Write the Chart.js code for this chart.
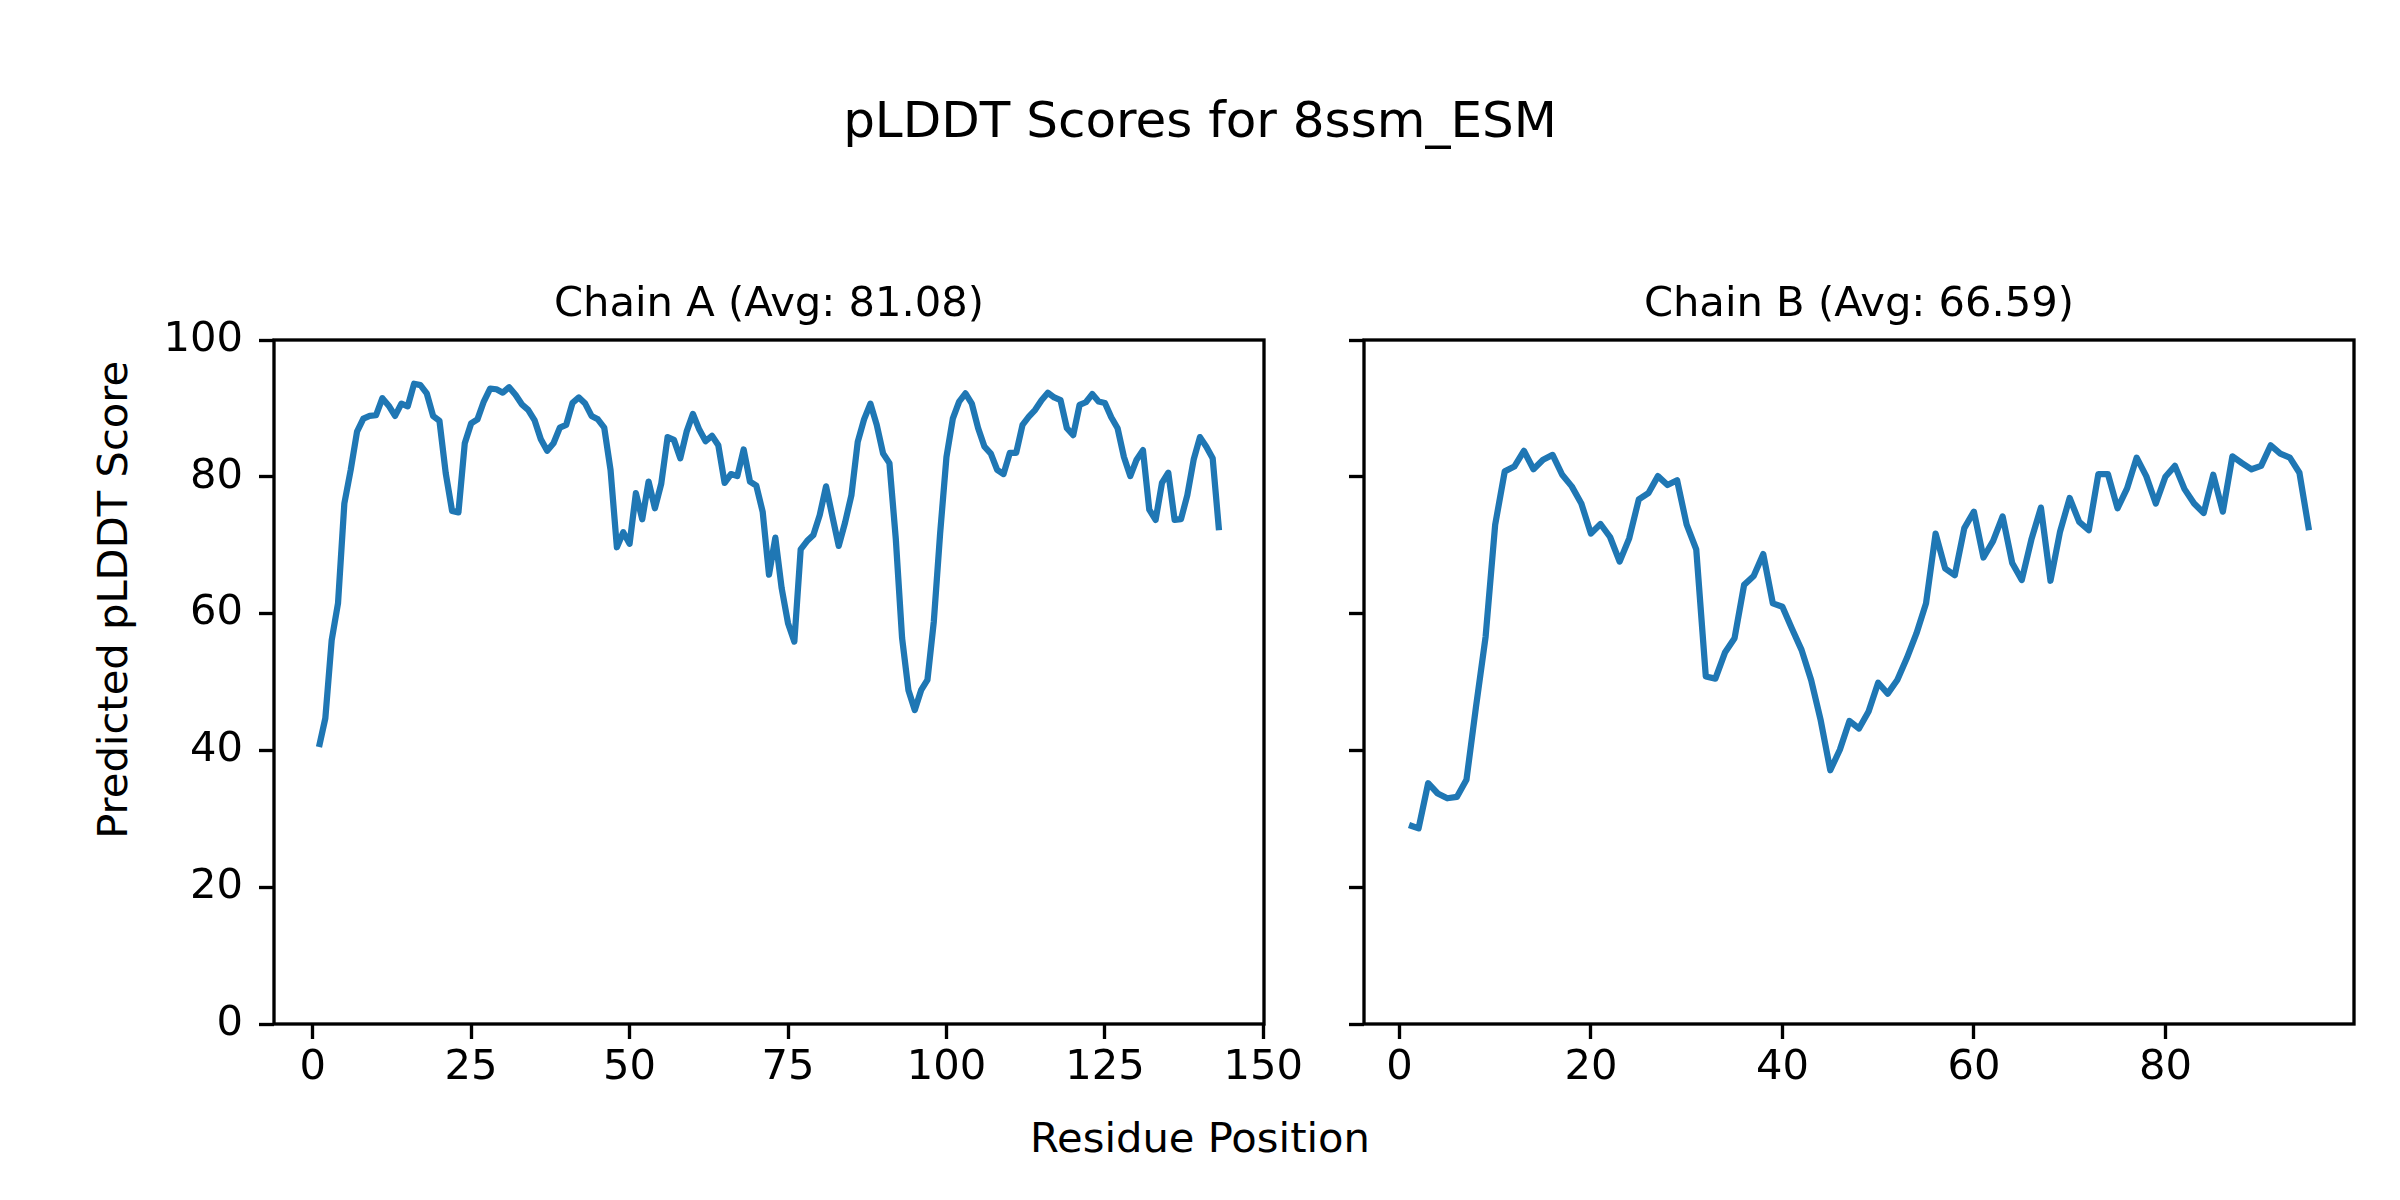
<!DOCTYPE html>
<html>
<head>
<meta charset="utf-8">
<script src="https://cdn.jsdelivr.net/npm/chart.js"></script>
<style>
  body { margin: 0; background: #fff; width: 2400px; height: 1200px; position: relative; overflow: hidden; font-family: 'DejaVu Sans', sans-serif; color: #000; }
  canvas { position: absolute; top: 0; }
  .lbl { position: absolute; white-space: nowrap; text-align: center; }
</style>
</head>
<body>
<div class="lbl" id="suptitle" style="left:0; width:2400px; top:95px; font-size:50px; line-height:50px;">pLDDT Scores for 8ssm_ESM</div>
<div class="lbl" id="xlabel" style="left:800px; width:800px; top:1117px; font-size:41.67px; line-height:41.67px;">Residue Position</div>
<div class="lbl" id="ylabel" style="left:-287px; width:800px; top:579px; font-size:41.67px; line-height:41.67px; transform:rotate(-90deg);">Predicted pLDDT Score</div>
<canvas id="chartA" width="1314" height="1200" style="left:0"></canvas>
<canvas id="chartB" width="1086" height="1200" style="left:1314px"></canvas>
<script>
// pLDDT per residue
const chainA = [
  40.5, 44.7, 56.1, 61.5, 76.1, 81.0, 86.6, 88.5, 88.9, 89.0,
  91.5, 90.4, 88.9, 90.7, 90.3, 93.6, 93.4, 92.2, 88.9, 88.2,
  80.5, 75.0, 74.8, 84.9, 87.8, 88.4, 91.0, 92.9, 92.8, 92.3,
  93.1, 92.0, 90.6, 89.8, 88.3, 85.5, 83.8, 84.9, 87.2, 87.6,
  90.8, 91.6, 90.7, 88.9, 88.4, 87.2, 81.0, 69.7, 71.9, 70.2,
  77.6, 73.8, 79.3, 75.4, 79.0, 85.8, 85.4, 82.7, 86.6, 89.2,
  86.9, 85.2, 86.0, 84.6, 79.1, 80.4, 80.1, 84.0, 79.3, 78.7,
  74.9, 65.7, 71.1, 63.7, 58.6, 55.9, 69.4, 70.6, 71.5, 74.4,
  78.6, 74.2, 69.9, 73.3, 77.3, 85.1, 88.4, 90.7, 87.6, 83.4,
  82.0, 71.0, 56.4, 48.8, 45.9, 48.8, 50.3, 58.8, 71.7, 82.9,
  88.5, 91.0, 92.2, 90.7, 87.1, 84.4, 83.4, 81.0, 80.4, 83.5,
  83.5, 87.6, 88.8, 89.8, 91.2, 92.3, 91.6, 91.2, 87.1, 86.1,
  90.5, 90.9, 92.1, 91.0, 90.8, 88.7, 87.1, 82.9, 80.1, 82.5,
  83.9, 75.2, 73.7, 79.1, 80.6, 73.7, 73.8, 77.3, 82.5, 85.8,
  84.4, 82.7, 72.2
];
const chainB = [
  29.1, 28.6, 35.2, 33.7, 33.0, 33.2, 35.7, 46.4, 56.6, 73.0,
  80.8, 81.5, 83.8, 81.1, 82.5, 83.2, 80.3, 78.6, 76.1, 71.7,
  73.1, 71.2, 67.6, 71.0, 76.7, 77.6, 80.1, 78.8, 79.5, 73.0,
  69.4, 50.8, 50.5, 54.3, 56.4, 64.2, 65.5, 68.7, 61.5, 61.0,
  57.8, 54.7, 50.3, 44.4, 37.1, 40.1, 44.3, 43.2, 45.7, 49.9,
  48.3, 50.3, 53.5, 57.1, 61.5, 71.7, 66.6, 65.6, 72.5, 74.9,
  68.2, 70.6, 74.2, 67.4, 64.9, 70.8, 75.5, 64.8, 72.0, 76.9,
  73.4, 72.2, 80.4, 80.4, 75.4, 78.3, 82.8, 80.1, 76.1, 80.0,
  81.6, 78.2, 76.1, 74.7, 80.3, 74.9, 83.0, 82.0, 81.1, 81.6,
  84.6, 83.4, 82.8, 80.6, 72.2
];
const titleA = 'Chain A (Avg: 81.08)';
const titleB = 'Chain B (Avg: 66.59)';
const xTicksA = [0, 25, 50, 75, 100, 125, 150];
const xTicksB = [0, 20, 40, 60, 80];
const yTicks = [0, 20, 40, 60, 80, 100];

Chart.defaults.font.family = "'DejaVu Sans', sans-serif";
Chart.defaults.font.size = 41.67;
Chart.defaults.color = '#000';

// matplotlib style box around the plot area
const framePlugin = {
  id: 'frame',
  afterDatasetsDraw(chart) {
    const a = chart.chartArea;
    const ctx = chart.ctx;
    ctx.save();
    ctx.strokeStyle = '#000';
    ctx.lineWidth = 3.33;
    ctx.strokeRect(a.left, a.top, a.right - a.left, a.bottom - a.top);
    ctx.restore();
  }
};

function makeChart(id, values, xTicks, title, showYLabels, yWidth, padRight) {
  const points = values.map((v, i) => ({ x: i + 1, y: v }));
  const n = values.length;
  const margin = (n - 1) * 0.05;
  return new Chart(document.getElementById(id).getContext('2d'), {
    type: 'line',
    data: {
      datasets: [{
        data: points,
        borderColor: '#1f77b4',
        borderWidth: 6.25,
        borderJoinStyle: 'round',
        borderCapStyle: 'butt',
        pointRadius: 0,
        tension: 0,
        fill: false
      }]
    },
    options: {
      responsive: false,
      animation: false,
      devicePixelRatio: 1,
      layout: { padding: { left: 0, top: 0, right: padRight, bottom: 76 } },
      plugins: {
        legend: { display: false },
        tooltip: { enabled: false },
        title: {
          display: true,
          text: title,
          fullSize: false,
          font: { size: 41.67, weight: 'normal' },
          color: '#000',
          padding: { top: 280, bottom: 10 }
        }
      },
      scales: {
        x: {
          type: 'linear',
          min: 1 - margin,
          max: n + margin,
          afterBuildTicks: (s) => { s.ticks = xTicks.map(v => ({ value: v })); },
          afterFit: (s) => { s.height = 100; },
          grid: { display: true, drawOnChartArea: false, drawTicks: true, tickLength: 15, tickWidth: 3.33, tickColor: '#000' },
          border: { display: false },
          ticks: { padding: 4.6, maxRotation: 0, autoSkip: false, color: '#000' }
        },
        y: {
          type: 'linear',
          min: 0,
          max: 100,
          afterBuildTicks: (s) => { s.ticks = yTicks.map(v => ({ value: v })); },
          afterFit: (s) => { s.width = yWidth; },
          grid: { display: true, drawOnChartArea: false, drawTicks: true, tickLength: 15, tickWidth: 3.33, tickColor: '#000' },
          border: { display: false },
          ticks: { display: showYLabels, padding: 16, autoSkip: false, color: '#000' }
        }
      }
    },
    plugins: [framePlugin]
  });
}

makeChart('chartA', chainA, xTicksA, titleA, true, 274, 50);
makeChart('chartB', chainB, xTicksB, titleB, false, 50, 46);
</script>
</body>
</html>
